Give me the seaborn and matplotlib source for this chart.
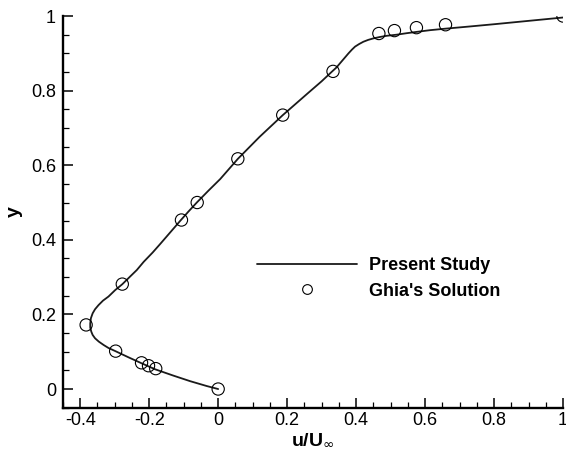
import matplotlib
matplotlib.use("Agg")
import matplotlib.pyplot as plt
from matplotlib.lines import Line2D
from matplotlib.ticker import FixedLocator, MultipleLocator, FuncFormatter
import seaborn as sns
import pandas as pd

# Present study: u-velocity along the vertical centreline of the cavity
present_u = [0.0, -0.033, -0.081, -0.13, -0.183, -0.222, -0.26, -0.299,
             -0.318, -0.332, -0.346, -0.357, -0.364, -0.368, -0.371, -0.371,
             -0.369, -0.364, -0.357, -0.347, -0.334, -0.318, -0.299, -0.278,
             -0.256, -0.236, -0.216, -0.190, -0.168, -0.139, -0.110, -0.086,
             -0.062, -0.028, 0.006, 0.057, 0.12, 0.187, 0.26, 0.300, 0.330,
             0.343, 0.354, 0.366, 0.378, 0.388, 0.397, 0.409, 0.421, 0.435,
             0.450, 0.470, 0.489, 0.518, 0.547, 0.580, 0.614, 0.658, 0.73,
             0.80, 0.90, 1.0]
present_y = [0.0, 0.008, 0.021, 0.036, 0.053, 0.069, 0.085, 0.102,
             0.110, 0.118, 0.127, 0.136, 0.145, 0.154, 0.165, 0.176,
             0.190, 0.203, 0.214, 0.225, 0.237, 0.248, 0.265, 0.281,
             0.301, 0.319, 0.341, 0.366, 0.389, 0.420, 0.451, 0.476,
             0.500, 0.532, 0.563, 0.617, 0.676, 0.734, 0.793, 0.825, 0.851,
             0.862, 0.874, 0.887, 0.900, 0.910, 0.918, 0.925, 0.931, 0.936,
             0.940, 0.944, 0.947, 0.950, 0.954, 0.958, 0.962, 0.966, 0.972,
             0.978, 0.987, 0.996]

# Ghia et al. benchmark (Re = 1000)
ghia_y = [1.0, 0.9766, 0.9688, 0.9609, 0.9531, 0.8516, 0.7344, 0.6172, 0.5,
          0.4531, 0.2813, 0.1719, 0.1016, 0.0703, 0.0625, 0.0547, 0.0]
ghia_u = [1.0, 0.65928, 0.57492, 0.51117, 0.46604, 0.33304, 0.18719, 0.05702,
          -0.06080, -0.10648, -0.27805, -0.38289, -0.29730, -0.22220,
          -0.20196, -0.18109, 0.0]

x_ticks = [-0.4, -0.2, 0, 0.2, 0.4, 0.6, 0.8, 1]
y_ticks = [0, 0.2, 0.4, 0.6, 0.8, 1]
legend_labels = ["Present Study", "Ghia's Solution"]

sns.set_style("ticks")
plt.rcParams["font.family"] = ["Liberation Sans", "DejaVu Sans"]
plt.rcParams["axes.unicode_minus"] = False

present = pd.DataFrame({"u": present_u, "y": present_y})
ghia = pd.DataFrame({"u": ghia_u, "y": ghia_y})

fig = plt.figure(figsize=(5.66, 4.59), dpi=100)
ax = fig.add_axes([0.1113, 0.1118, 0.9947 - 0.1113, 0.9651 - 0.1118])

sns.lineplot(data=present, x="u", y="y", sort=False, estimator=None,
             color="#1a1a1a", linewidth=1.3, ax=ax, zorder=2)
sns.scatterplot(data=ghia, x="u", y="y", marker="o", s=78,
                facecolors="none", edgecolor="black", linewidth=0.8,
                ax=ax, zorder=3)

ax.set_xlim(-0.45, 1.0)
ax.set_ylim(-0.05, 1.0)

fmt = FuncFormatter(lambda v, p: f"{v:g}")
ax.xaxis.set_major_locator(FixedLocator(x_ticks))
ax.yaxis.set_major_locator(FixedLocator(y_ticks))
ax.xaxis.set_minor_locator(MultipleLocator(0.05))
ax.yaxis.set_minor_locator(MultipleLocator(0.05))
ax.xaxis.set_major_formatter(fmt)
ax.yaxis.set_major_formatter(fmt)

for side in ("top", "right"):
    ax.spines[side].set_visible(False)
for side in ("left", "bottom"):
    ax.spines[side].set_linewidth(1.7)
    ax.spines[side].set_color("black")

ax.tick_params(which="major", direction="in", length=7, width=1.1,
               labelsize=13, colors="black")
ax.tick_params(which="minor", direction="in", length=4.5, width=0.9,
               colors="black")
ax.tick_params(axis="y", which="major", pad=5)
ax.tick_params(axis="x", which="major", pad=3)

ax.set_xlabel(r"u/U$_{\infty}$", fontsize=14, fontweight="bold", labelpad=2,
              color="black")
ax.set_ylabel("y", fontsize=14, fontweight="bold", labelpad=6, color="black")

handles = [Line2D([], [], color="#1a1a1a", linewidth=1.3),
           Line2D([], [], marker="o", linestyle="none", markerfacecolor="none",
                  markeredgecolor="black", markersize=7, markeredgewidth=0.8)]
leg = ax.legend(handles, legend_labels, loc="center left",
                bbox_to_anchor=(241 / 566, 1 - 278.5 / 459),
                bbox_transform=fig.transFigure, frameon=False,
                prop={"weight": "bold", "size": 13}, handlelength=5.5,
                handletextpad=0.7, labelspacing=0.45, borderpad=0.4)
for t in leg.get_texts():
    t.set_color("black")

fig.savefig("out.png", dpi=100)
